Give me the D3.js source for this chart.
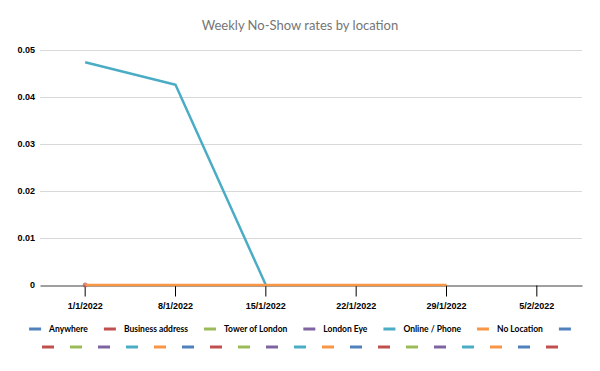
<!DOCTYPE html>
<html lang="en">
<head>
  <meta charset="UTF-8">
  <title>Weekly No-Show rates by location</title>
  <style>
    body {
      margin: 0;
      padding: 0;
      background: #fff;
      font-family: Lato, "Open Sans", sans-serif;
    }
    svg {
      display: block;
    }
    .grid line {
      stroke: #d9d9d9;
      stroke-width: 1;
    }
    .axis text {
      font-size: 9px;
      font-weight: bold;
      fill: #000;
    }
    .legend text {
      font-size: 8.5px;
      font-weight: bold;
      fill: #000;
    }
  </style>
</head>
<body>
  <div id="chart"></div>

  <script src="https://d3js.org/d3.v7.min.js"></script>
  <script>
    // categories on the x axis
    const weeks = ['1/1/2022', '8/1/2022', '15/1/2022', '22/1/2022', '29/1/2022', '5/2/2022'];

    // y axis ticks
    const yTicks = [0, 0.01, 0.02, 0.03, 0.04, 0.05];

    // series values (null = no data)
    const anywhere = [null, null, null, null, null, null];
    const businessAddress = [0, null, null, null, null, null];
    const towerOfLondon = [null, null, null, null, null, null];
    const londonEye = [null, null, null, null, null, null];
    const onlinePhone = [0.0474, 0.0426, 0, null, null, null];
    const noLocation = [0, 0, 0, 0, 0, null];

    // legend entries: named series followed by the empty ones
    const seriesNames = ['Anywhere', 'Business address', 'Tower of London', 'London Eye', 'Online / Phone', 'No Location'];
    const blankCount = 20;

    const palette = ['#4f81bd', '#c0504d', '#9bbb59', '#8064a2', '#4bacc6', '#f79646'];

    const width = 600, height = 371;
    const margin = { top: 50, right: 18, bottom: 86, left: 40 };

    const svg = d3.select('#chart').append('svg')
      .attr('width', width)
      .attr('height', height);

    // title
    svg.append('text')
      .attr('x', width / 2)
      .attr('y', 30)
      .attr('text-anchor', 'middle')
      .style('font-size', '13px')
      .style('fill', '#757575')
      .text('Weekly No-Show rates by location');

    const x = d3.scaleBand()
      .domain(weeks)
      .range([margin.left, width - margin.right]);

    const y = d3.scaleLinear()
      .domain([0, 0.05])
      .range([height - margin.bottom, margin.top]);

    const cx = d => x(d) + x.bandwidth() / 2;

    // gridlines
    svg.append('g')
      .attr('class', 'grid')
      .selectAll('line')
      .data(yTicks.filter(t => t > 0))
      .enter().append('line')
      .attr('x1', margin.left)
      .attr('x2', width - margin.right)
      .attr('y1', d => Math.round(y(d)) + 0.5)
      .attr('y2', d => Math.round(y(d)) + 0.5);

    // y axis labels
    const yAxis = svg.append('g')
      .attr('class', 'axis')
      .attr('transform', `translate(${margin.left},0)`)
      .call(d3.axisLeft(y).tickValues(yTicks).tickSize(0).tickPadding(5)
        .tickFormat(d => d === 0 ? '0' : d3.format('.2f')(d)));
    yAxis.select('.domain').remove();

    // x axis with ticks at category centres
    const xAxis = svg.append('g')
      .attr('class', 'axis')
      .attr('transform', `translate(0,${Math.round(y(0)) + 0.5})`)
      .call(d3.axisBottom(x).tickSizeInner(11).tickSizeOuter(0).tickPadding(6));
    xAxis.select('.domain').attr('stroke', '#404040');
    xAxis.selectAll('.tick line').attr('stroke', '#000');

    // lines
    const line = d3.line()
      .defined(d => d.v !== null)
      .x(d => cx(d.week))
      .y(d => y(d.v));

    const toPoints = vals => vals.map((v, i) => ({ week: weeks[i], v: v }));

    // business address has a single point, shown as a marker
    svg.append('circle')
      .attr('cx', cx(weeks[0]))
      .attr('cy', y(businessAddress[0]))
      .attr('r', 2.5)
      .attr('fill', palette[1])
      .attr('opacity', 0.7);

    svg.append('path')
      .datum(toPoints(onlinePhone))
      .attr('fill', 'none')
      .attr('stroke', palette[4])
      .attr('stroke-width', 2.5)
      .attr('stroke-linejoin', 'round')
      .attr('d', line);

    svg.append('path')
      .datum(toPoints(noLocation))
      .attr('fill', 'none')
      .attr('stroke', palette[5])
      .attr('stroke-width', 2.5)
      .attr('d', line);

    // legend
    const entries = seriesNames.concat(d3.range(blankCount).map(() => ''))
      .map((name, i) => ({ name: name, color: palette[i % palette.length] }));

    const legend = svg.append('g').attr('class', 'legend');
    const rows = [entries.slice(0, 7), entries.slice(7)];
    const rowY = [329, 347];
    const swatch = 12, textGap = 8, itemGap = 16;

    rows.forEach((row, r) => {
      const g = legend.append('g');
      let pos = 0;
      row.forEach(e => {
        const item = g.append('g').attr('transform', `translate(${pos},0)`);
        item.append('rect')
          .attr('x', 0)
          .attr('y', rowY[r] - 1.5)
          .attr('width', swatch)
          .attr('height', 3)
          .attr('fill', e.color);
        let w = swatch;
        if (e.name) {
          const t = item.append('text')
            .attr('x', swatch + textGap)
            .attr('y', rowY[r] + 3)
            .text(e.name);
          w += textGap + t.node().getComputedTextLength();
        }
        pos += w + itemGap;
      });
      const total = pos - itemGap;
      g.attr('transform', `translate(${(width - total) / 2},0)`);
    });
  </script>
</body>
</html>
